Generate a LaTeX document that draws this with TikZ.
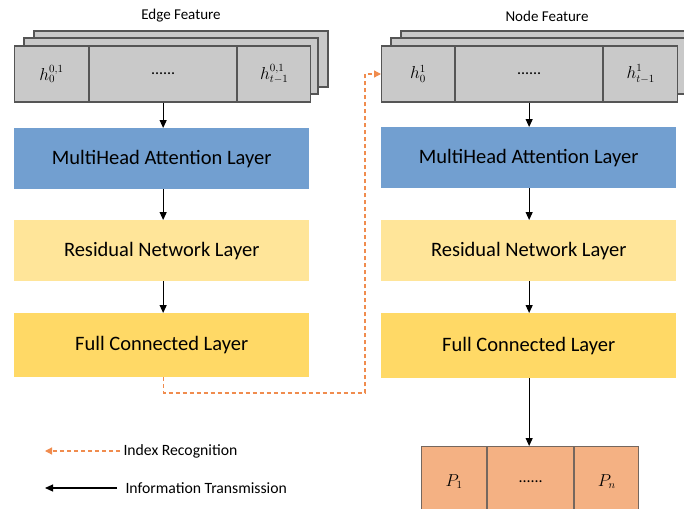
\documentclass[tikz,border=0pt]{standalone}
\usepackage{fontspec}
\setmainfont{Carlito}
\usetikzlibrary{arrows.meta,calc}
\definecolor{cellgray}{HTML}{C9C9C9}
\definecolor{cellline}{HTML}{555555}
\definecolor{mhablue}{HTML}{729FD0}
\definecolor{resyellow}{HTML}{FFE599}
\definecolor{fcyellow}{HTML}{FFD966}
\definecolor{porange}{HTML}{F4B183}
\definecolor{dashorange}{HTML}{F08C4E}
\tikzset{
  cell/.style={draw=cellline,line width=1.1pt,fill=cellgray,minimum height=56pt,inner sep=0pt,anchor=west,font=\fontsize{16}{18}\selectfont},
  backcell/.style={draw=cellline,line width=1.1pt,fill=cellgray},
  block/.style={minimum width=295pt,minimum height=61pt,inner sep=0pt,anchor=north west,font=\fontsize{20.5}{22}\selectfont},
  pcell/.style={draw=cellline!80!porange,line width=1.1pt,fill=porange,minimum height=70pt,inner sep=0pt,anchor=north west,font=\fontsize{16}{18}\selectfont},
  arr/.style={line width=1.1pt,-{Triangle[length=8pt,width=7pt]}},
  iarr/.style={line width=1.3pt,dashorange,dash pattern=on 4pt off 3pt,-{Triangle[length=7pt,width=7pt]}},
  title/.style={font=\fontsize{15}{17}\selectfont},
  legend/.style={font=\fontsize{15.7}{17}\selectfont,anchor=west}
}
\begin{document}
\begin{tikzpicture}[x=1pt,y=-1pt]
\useasboundingbox (0,0) rectangle (684,508);
\clip (0,0) rectangle (684,508);
% titles
\node[title] (etitle) at (181,16) {Edge Feature};
\node[title] (ntitle) at (547,16) {Node Feature};
% edge feature stack
\draw[backcell] (34,31) rectangle (328,87);
\draw[backcell] (24,38) rectangle (318,94);
\node[cell,minimum width=74pt] (ec1) at (14,74) {$h_0^{0,1}$};
\node[cell,minimum width=147pt] (ec2) at (ec1.east) {......};
\node[cell,minimum width=73pt] (ec3) at (ec2.east) {$h_{t-1}^{0,1}$};
% node feature stack
\draw[backcell] (401,31) rectangle (700,87);
\draw[backcell] (391,38) rectangle (690,94);
\node[cell,minimum width=73pt] (nc1) at (381,74) {$h_0^{1}$};
\node[cell,minimum width=147pt] (nc2) at (nc1.east) {......};
\node[cell,minimum width=74pt] (nc3) at (nc2.east) {$h_{t-1}^{1}$};
% left blocks
\node[block,fill=mhablue] (lmha) at (14,128) {MultiHead Attention Layer};
\node[block,fill=resyellow] (lres) at (14,220) {Residual Network Layer};
\node[block,fill=fcyellow,minimum height=64pt] (lfc) at (14,313) {Full Connected Layer};
% right blocks
\node[block,fill=mhablue] (rmha) at (381,127) {MultiHead Attention Layer};
\node[block,fill=resyellow] (rres) at (381,220) {Residual Network Layer};
\node[block,fill=fcyellow,minimum height=65pt] (rfc) at (381,313) {Full Connected Layer};
% output cells
\node[pcell,minimum width=65pt] (pc1) at (421,446) {$P_1$};
\node[pcell,minimum width=86pt] (pc2) at (pc1.north east) {......};
\node[pcell,minimum width=64pt] (pc3) at (pc2.north east) {$P_n$};
% arrows
\draw[arr] (ec2.south) -- (lmha.north -| ec2.south);
\draw[arr] (lmha.south -| ec2.south) -- (lres.north -| ec2.south);
\draw[arr] (lres.south -| ec2.south) -- (lfc.north -| ec2.south);
\draw[arr] (nc2.south) -- (rmha.north -| nc2.south);
\draw[arr] (rmha.south -| nc2.south) -- (rres.north -| nc2.south);
\draw[arr] (rres.south -| nc2.south) -- (rfc.north -| nc2.south);
\draw[arr] (rfc.south -| nc2.south) -- (pc2.north -| nc2.south);
% index recognition connector
\coordinate (turn) at (365,393);
\draw[iarr] (lfc.south -| ec2.south) |- (turn) |- (nc1.west);
% legend
\node[legend] (lt1) at (120,451) {Index Recognition};
\node[legend] (lt2) at (122,488) {Information Transmission};
\coordinate (le1) at (45,451);
\coordinate (le2) at (45,488);
\draw[iarr] (lt1.west) -- (le1);
\draw[arr] ($(lt2.west)+(-5,0)$) -- (le2);
\end{tikzpicture}
\end{document}
